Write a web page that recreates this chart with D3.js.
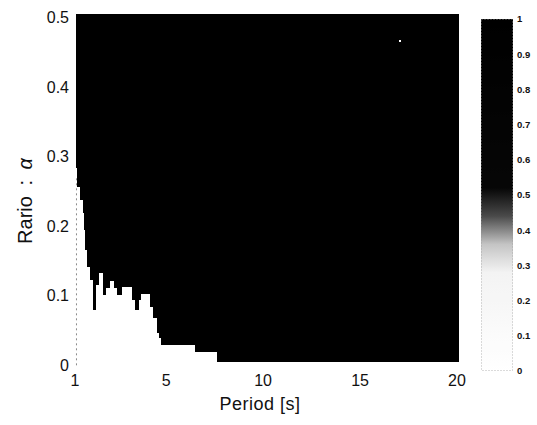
<!DOCTYPE html>
<html>
<head>
<meta charset="utf-8">
<script src="https://d3js.org/d3.v7.min.js"></script>
<style>
  body { margin: 0; background: #fff; }
  text { font-family: Arial, "Liberation Sans", sans-serif; fill: #111; }
</style>
</head>
<body>
<svg width="537" height="425"></svg>
<script>
// Map extent (period / ratio covered by the image)
var periodRange = [0.35, 20.09];
var alphaRange = [0.005, 0.505];

// White region (value 0) under the black (value 1) field:
// column edges in period, and top of white in alpha for each column
var periodEdges = [0.35, 0.42, 0.58, 0.71, 0.78, 0.84, 0.94, 1.07, 1.23, 1.38, 1.54,
                   1.74, 1.90, 2.08, 2.31, 2.47, 2.72, 3.24, 3.39, 3.60, 3.68, 4.17,
                   4.32, 4.53, 4.63, 4.73, 6.49, 7.62];
var whiteTop = [0.283, 0.256, 0.237, 0.219, 0.194, 0.165, 0.141, 0.122, 0.079, 0.115,
                0.133, 0.101, 0.111, 0.121, 0.111, 0.101, 0.112, 0.094, 0.079, 0.094,
                0.102, 0.084, 0.068, 0.046, 0.039, 0.029, 0.018];

// isolated white cell
var speckPeriod = [17.05];
var speckAlpha = [0.466];

// axes
// NOTE: in the source figure the 5/10/15/20 ticks are evenly spaced, but the
// left-edge tick labelled "1" sits where that spacing puts ~0.3, not 1.
// The quirk is kept here (tick at 0.3, label "1") so the picture matches;
var xTicks = [0.3, 5, 10, 15, 20];
var xTickLabels = ["1", "5", "10", "15", "20"];
var yTicks = [0, 0.1, 0.2, 0.3, 0.4, 0.5];
var cbTicks = [0, 0.1, 0.2, 0.3, 0.4, 0.5, 0.6, 0.7, 0.8, 0.9, 1];

var svg = d3.select("svg");

var x = d3.scaleLinear().domain([0.3, 20]).range([75, 457]);
var y = d3.scaleLinear().domain([0, 0.5]).range([365, 17.5]);

// gray map as scanned: white up to ~0.3, black above ~0.5
var color = d3.scaleLinear()
    .domain([0, 0.28, 0.36, 0.44, 0.52, 1])
    .range(["#ffffff", "#f3f3f3", "#c4c4c4", "#4a4a4a", "#060606", "#000000"]);

var g = svg.append("g").attr("shape-rendering", "crispEdges");

// black field
g.append("rect")
    .attr("x", x(periodRange[0]))
    .attr("y", y(alphaRange[1]))
    .attr("width", x(periodRange[1]) - x(periodRange[0]))
    .attr("height", y(alphaRange[0]) - y(alphaRange[1]))
    .attr("fill", color(1));

// white columns
g.selectAll(".col").data(whiteTop).enter().append("rect")
    .attr("class", "col")
    .attr("x", function(d, i) { return x(periodEdges[i]); })
    .attr("width", function(d, i) { return x(periodEdges[i + 1]) - x(periodEdges[i]); })
    .attr("y", function(d) { return y(d); })
    .attr("height", function(d) { return y(alphaRange[0]) - y(d); })
    .attr("fill", color(0));

g.selectAll(".speck").data(speckPeriod).enter().append("rect")
    .attr("class", "speck")
    .attr("x", function(d) { return x(d) - 1; })
    .attr("y", function(d, i) { return y(speckAlpha[i]) - 1; })
    .attr("width", 2).attr("height", 2)
    .attr("fill", color(0));

// faint dotted left edge of the first column
svg.append("line")
    .attr("x1", x(periodRange[0]) + 0.5).attr("x2", x(periodRange[0]) + 0.5)
    .attr("y1", y(whiteTop[0]) + 10).attr("y2", y(alphaRange[0]) + 6)
    .attr("stroke", "#8a8a8a").attr("stroke-width", 1)
    .attr("stroke-dasharray", "2,3");

// y tick labels
svg.selectAll(".ytick").data(yTicks).enter().append("text")
    .attr("class", "ytick")
    .attr("x", 69).attr("y", function(d) { return y(d); })
    .attr("dy", "0.36em")
    .attr("text-anchor", "end")
    .style("font-size", "16px")
    .text(function(d) { return d3.format("")(d); });

// x tick labels
svg.selectAll(".xtick").data(xTicks).enter().append("text")
    .attr("class", "xtick")
    .attr("x", function(d) { return x(d); }).attr("y", 386)
    .attr("text-anchor", "middle")
    .style("font-size", "16px")
    .text(function(d, i) { return xTickLabels[i]; });

// axis titles
svg.append("text")
    .attr("x", 260).attr("y", 410)
    .attr("text-anchor", "middle")
    .style("font-size", "18px")
    .style("letter-spacing", "0.5px")
    .text("Period [s]");

var yl = svg.append("text")
    .attr("transform", "translate(32,201) rotate(-90)")
    .attr("text-anchor", "middle")
    .style("font-size", "20px")
    .style("word-spacing", "5px");
yl.append("tspan").text("Rario : ");
yl.append("tspan").style("font-style", "italic").text("α");

// colorbar
var cb = d3.scaleLinear().domain([0, 1]).range([371, 19]);
var cbX = 481, cbW = 32;

var grad = svg.append("defs").append("linearGradient")
    .attr("id", "cbgrad")
    .attr("x1", 0).attr("y1", 1).attr("x2", 0).attr("y2", 0);
grad.selectAll("stop").data(d3.range(0, 51)).enter().append("stop")
    .attr("offset", function(d) { return d / 50; })
    .attr("stop-color", function(d) { return color(d / 50); });

svg.append("rect")
    .attr("x", cbX).attr("y", cb(1))
    .attr("width", cbW).attr("height", cb(0) - cb(1))
    .attr("fill", "url(#cbgrad)");

svg.append("rect")
    .attr("x", cbX + 0.5).attr("y", cb(1) + 0.5)
    .attr("width", cbW - 1).attr("height", cb(0) - cb(1) - 1)
    .attr("fill", "none")
    .attr("stroke", "#9a9a9a").attr("stroke-width", 0.7)
    .attr("stroke-dasharray", "1,2");

svg.selectAll(".cbtick").data(cbTicks).enter().append("text")
    .attr("class", "cbtick")
    .attr("x", 517).attr("y", function(d) { return cb(d); })
    .attr("dy", "0.35em")
    .style("font-size", "9.5px")
    .style("font-weight", "bold")
    .text(function(d) { return d3.format("")(d); });
</script>
</body>
</html>
